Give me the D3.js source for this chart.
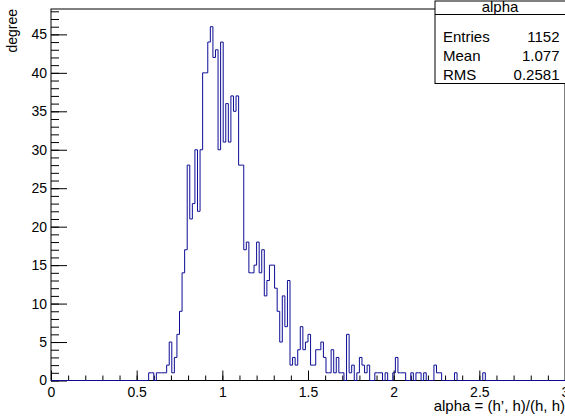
<!DOCTYPE html>
<html>
<head>
<meta charset="utf-8">
<script src="https://cdn.jsdelivr.net/npm/d3@7"></script>
<style>
  body { margin: 0; background: #fff; }
  svg { display: block; font-family: "Liberation Sans", Arial, Helvetica, sans-serif; }
</style>
</head>
<body>
<div id="chart"></div>
<script>
// histogram binning (ROOT TH1: 200 bins over [0, 3])
const xLow = 0, xHigh = 3, nBins = 200;
const firstBin = 38;
// bin contents starting at bin index 38 (x = 0.57)
const counts = [
  1, 1, 0, 1, 1, 1, 1, 2, 5, 1,
  3, 6, 9, 14, 17, 28, 21, 23, 30, 22,
  30, 40, 40, 44, 46, 42, 43, 30, 44, 31,
  36, 31, 37, 35, 37, 28, 28, 17, 18, 14,
  14, 15, 18, 14, 17, 11, 13, 15, 15, 12,
  9, 5, 11, 7, 13, 2, 3, 2, 4, 7,
  4, 5, 6, 2, 2, 4, 4, 5, 3, 1,
  1, 4, 1, 3, 1, 1, 0, 6, 1, 2,
  0, 1, 3, 2, 1, 2, 0, 0, 1, 1,
  1, 0, 1, 0, 0, 1, 3, 1, 1, 1,
  0, 0, 1, 0, 1, 1, 0, 1, 0, 0,
  0, 2, 1, 1, 0, 0, 0, 0, 0, 1,
  0, 0, 0, 0, 0, 0, 0, 0, 0, 0,
  1
];
const yMax = 48.3;

const xMajor = [0, 0.5, 1, 1.5, 2, 2.5, 3];
const xLabels = ["0", "0.5", "1", "1.5", "2", "2.5", "3"];
const yMajor = [0, 5, 10, 15, 20, 25, 30, 35, 40, 45];
const yLabels = ["0", "5", "10", "15", "20", "25", "30", "35", "40", "45"];

const xTitle = "alpha = (h\u2019, h)/(h, h)";
const yTitle = "degree";

const statsTitle = "alpha";
const statsNames = ["Entries", "Mean", "RMS"];
const statsValues = ["1152", "1.077", "0.2581"];

const W = 565, H = 416;
const frame = { left: 51, right: 565, top: 9, bottom: 380.5 };
const lineColor = "#0c0c96";

const svg = d3.select("#chart").append("svg")
    .attr("width", W)
    .attr("height", H);

const x = d3.scaleLinear().domain([xLow, xHigh]).range([frame.left, frame.right]);
const y = d3.scaleLinear().domain([0, yMax]).range([frame.bottom, frame.top]);

// full list of bin contents
const binW = (xHigh - xLow) / nBins;
const bins = d3.range(nBins).map(function(i) {
  const k = i - firstBin;
  return { lo: xLow + i * binW, v: (k >= 0 && k < counts.length) ? counts[k] : 0 };
});

// frame
svg.append("rect")
    .attr("x", frame.left)
    .attr("y", frame.top)
    .attr("width", frame.right - frame.left)
    .attr("height", frame.bottom - frame.top)
    .attr("fill", "none")
    .attr("stroke", "#000")
    .attr("stroke-width", 1);

// x axis minor ticks every 0.1
const xMinor = d3.range(0, 31).map(function(d) { return d / 10; });
svg.append("g")
    .attr("transform", "translate(0," + frame.bottom + ")")
    .call(d3.axisBottom(x).tickValues(xMinor).tickSize(-5).tickFormat(""))
    .call(function(g) { g.select(".domain").remove(); });

// x axis major ticks + labels
svg.append("g")
    .attr("class", "x-axis")
    .attr("transform", "translate(0," + frame.bottom + ")")
    .call(d3.axisBottom(x).tickValues(xMajor).tickSize(-10).tickPadding(6.5)
      .tickFormat(function(d, i) { return xLabels[i]; }))
    .call(function(g) { g.select(".domain").remove(); });

// y axis minor ticks every 1
const yMinor = d3.range(0, 49);
svg.append("g")
    .attr("transform", "translate(" + frame.left + ",0)")
    .call(d3.axisLeft(y).tickValues(yMinor).tickSize(-8).tickFormat(""))
    .call(function(g) { g.select(".domain").remove(); });

// y axis major ticks + labels
svg.append("g")
    .attr("class", "y-axis")
    .attr("transform", "translate(" + frame.left + ",0)")
    .call(d3.axisLeft(y).tickValues(yMajor).tickSize(-16).tickPadding(4)
      .tickFormat(function(d, i) { return yLabels[i]; }))
    .call(function(g) { g.select(".domain").remove(); });

svg.selectAll(".x-axis text, .y-axis text")
    .attr("font-size", 14)
    .attr("font-family", "Liberation Sans, Arial, sans-serif")
    .attr("fill", "#000");
svg.selectAll(".tick line").attr("stroke", "#000");

// histogram outline
const pts = bins.map(function(b) { return [b.lo, b.v]; });
pts.push([xHigh, 0]);
const step = d3.line()
    .x(function(d) { return x(d[0]); })
    .y(function(d) { return y(d[1]); })
    .curve(d3.curveStepAfter);

svg.append("path")
    .attr("d", step(pts))
    .attr("fill", "none")
    .attr("stroke", lineColor)
    .attr("stroke-width", 1);

// axis titles
svg.append("text")
    .attr("x", frame.right)
    .attr("y", 411)
    .attr("text-anchor", "end")
    .attr("font-size", 15)
    .text(xTitle);

svg.append("text")
    .attr("transform", "translate(17,9) rotate(-90)")
    .attr("text-anchor", "end")
    .attr("font-size", 14)
    .text(yTitle);

// stats box
const box = { x: 435, y: 1, w: 132, h: 82.5 };
svg.append("rect")
    .attr("x", box.x)
    .attr("y", box.y)
    .attr("width", box.w)
    .attr("height", box.h)
    .attr("fill", "#fff")
    .attr("stroke", "#000");
svg.append("line")
    .attr("x1", box.x).attr("x2", box.x + box.w)
    .attr("y1", 14.5).attr("y2", 14.5)
    .attr("stroke", "#000");
svg.append("text")
    .attr("x", 500)
    .attr("y", 11.5)
    .attr("text-anchor", "middle")
    .attr("font-size", 15)
    .text(statsTitle);

const rowY = [42, 61, 79.5];
statsNames.forEach(function(n, i) {
  svg.append("text")
      .attr("x", 443)
      .attr("y", rowY[i])
      .attr("font-size", 15)
      .text(n);
  svg.append("text")
      .attr("x", 559.5)
      .attr("y", rowY[i])
      .attr("text-anchor", "end")
      .attr("font-size", 15)
      .text(statsValues[i]);
});
</script>
</body>
</html>
